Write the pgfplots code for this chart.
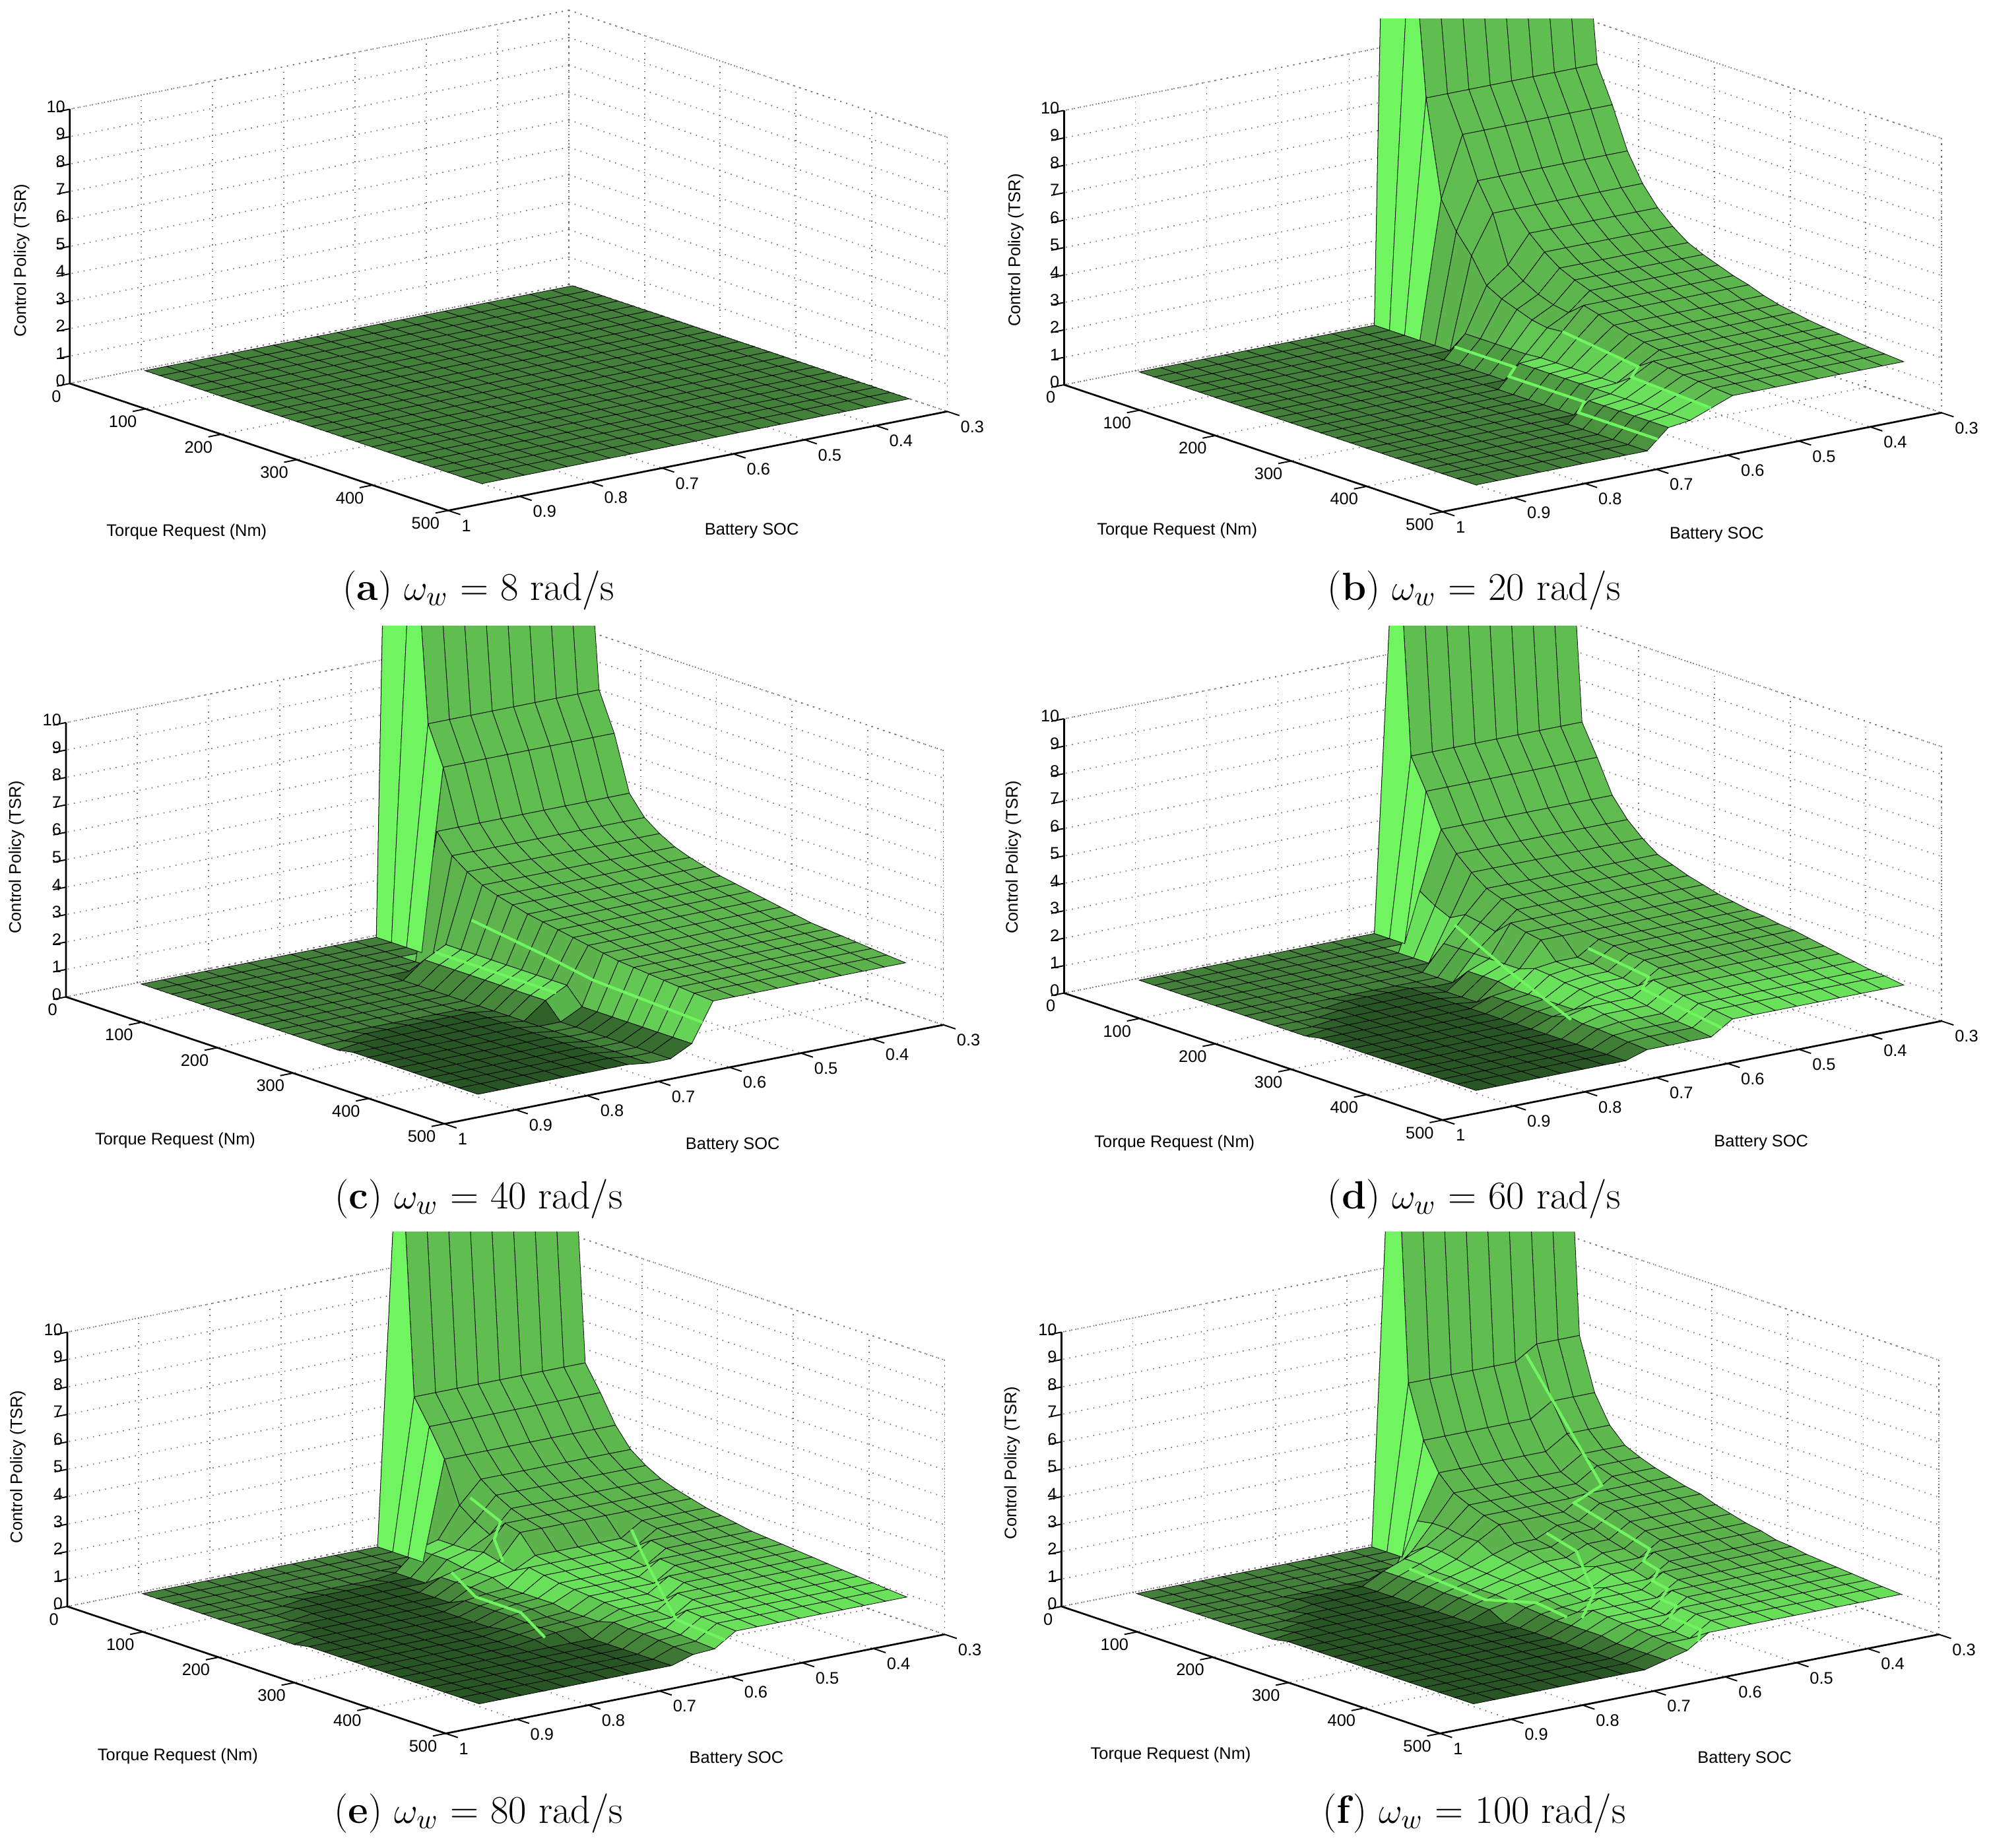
\documentclass[border=0pt]{standalone}
\usepackage{fontspec}
\usepackage{pgfplots}
\usepackage{pgfplotstable}
\pgfplotsset{compat=1.18}
\newfontfamily\sans{Liberation Sans}
\definecolor{rg}{RGB}{112,245,96}
\pgfplotstableread{
T S a b c d e f
5 .3 0 40 40 16 16 18
25 .3 0 15 16 6.5 5.5 6.5
45 .3 0 8.5 8 5.4 4.6 4.6
65 .3 0 7.2 6.6 4.2 3.6 3.6
85 .3 0 5.7 4.6 3.5 2.9 3.05
105 .3 0 4.7 3.9 3 2.5 2.8
125 .3 0 4 3.5 2.6 2.2 2.6
145 .3 0 3.5 3.2 2.4 2 2.45
165 .3 0 3.1 3 2.2 1.85 2.3
185 .3 0 2.85 2.85 2.05 1.7 2.2
205 .3 0 2.65 2.7 1.9 1.6 2
225 .3 0 2.45 2.6 1.8 1.5 1.85
245 .3 0 2.3 2.5 1.7 1.4 1.7
265 .3 0 2.1 2.4 1.65 1.35 1.6
285 .3 0 1.95 2.3 1.55 1.3 1.45
305 .3 0 1.85 2.2 1.5 1.25 1.4
325 .3 0 1.75 2.1 1.4 1.2 1.3
345 .3 0 1.68 2.05 1.3 1.15 1.25
365 .3 0 1.62 2 1.2 1.1 1.2
385 .3 0 1.55 1.95 1.1 1.05 1.15
405 .3 0 1.5 1.9 1 1 1.1
425 .3 0 1.45 1.85 .95 .95 1.05
450 .3 0 1.4 1.8 .85 .9 1
5 .33 0 40 40 16 16 18
25 .33 0 15 16 6.5 5.5 6.5
45 .33 0 8.5 8 5.4 4.6 4.6
65 .33 0 7.2 6.6 4.2 3.6 3.6
85 .33 0 5.7 4.6 3.5 2.9 3.05
105 .33 0 4.7 3.9 3 2.5 2.8
125 .33 0 4 3.5 2.6 2.2 2.6
145 .33 0 3.5 3.2 2.4 2 2.45
165 .33 0 3.1 3 2.2 1.85 2.3
185 .33 0 2.85 2.85 2.05 1.7 2.2
205 .33 0 2.65 2.7 1.9 1.6 2
225 .33 0 2.45 2.6 1.8 1.5 1.85
245 .33 0 2.3 2.5 1.7 1.4 1.7
265 .33 0 2.1 2.4 1.65 1.35 1.6
285 .33 0 1.95 2.3 1.55 1.3 1.45
305 .33 0 1.85 2.2 1.5 1.25 1.4
325 .33 0 1.75 2.1 1.4 1.2 1.3
345 .33 0 1.68 2.05 1.3 1.15 1.25
365 .33 0 1.62 2 1.2 1.1 1.2
385 .33 0 1.55 1.95 1.1 1.05 1.15
405 .33 0 1.5 1.9 1 1 1.1
425 .33 0 1.45 1.85 .95 .95 1.05
450 .33 0 1.4 1.8 .85 .9 1
5 .36 0 40 40 16 16 18
25 .36 0 15 16 6.5 5.5 6.5
45 .36 0 8.5 8 5.4 4.6 4.6
65 .36 0 7.2 6.6 4.2 3.6 3.6
85 .36 0 5.7 4.6 3.5 2.9 3.05
105 .36 0 4.7 3.9 3 2.5 2.8
125 .36 0 4 3.5 2.6 2.2 2.6
145 .36 0 3.5 3.2 2.4 2 2.45
165 .36 0 3.1 3 2.2 1.85 2.3
185 .36 0 2.85 2.85 2.05 1.7 2.2
205 .36 0 2.65 2.7 1.9 1.6 2
225 .36 0 2.45 2.6 1.8 1.5 1.85
245 .36 0 2.3 2.5 1.7 1.4 1.7
265 .36 0 2.1 2.4 1.65 1.35 1.6
285 .36 0 1.95 2.3 1.55 1.3 1.45
305 .36 0 1.85 2.2 1.5 1.25 1.4
325 .36 0 1.75 2.1 1.4 1.2 1.3
345 .36 0 1.68 2.05 1.3 1.15 1.25
365 .36 0 1.62 2 1.2 1.1 1.2
385 .36 0 1.55 1.95 1.1 1.05 1.15
405 .36 0 1.5 1.9 1 1 1.1
425 .36 0 1.45 1.85 .95 .95 1.05
450 .36 0 1.4 1.8 .85 .9 1
5 .39 0 40 40 16 16 18
25 .39 0 15 16 6.5 5.5 6
45 .39 0 8.5 8 5.4 4.6 4.1
65 .39 0 7.2 6.6 4.2 3.6 3.1
85 .39 0 5.7 4.6 3.5 2.9 2.55
105 .39 0 4.7 3.9 3 2.5 2.3
125 .39 0 4 3.5 2.6 2.2 2.1
145 .39 0 3.5 3.2 2.4 2 2.45
165 .39 0 3.1 3 2.2 1.85 2.3
185 .39 0 2.85 2.85 2.05 1.7 2.2
205 .39 0 2.65 2.7 1.9 1.6 2
225 .39 0 2.45 2.6 1.8 1.5 1.85
245 .39 0 2.3 2.5 1.7 1.4 1.7
265 .39 0 2.1 2.4 1.65 1.35 1.6
285 .39 0 1.95 2.3 1.55 1.3 1.45
305 .39 0 1.85 2.2 1.5 1.25 1.4
325 .39 0 1.75 2.1 1.4 1.2 1.3
345 .39 0 1.68 2.05 1.3 1.15 1.25
365 .39 0 1.62 2 1.2 1.1 1.2
385 .39 0 1.55 1.95 1.1 1.05 1.15
405 .39 0 1.5 1.9 1 1 1.1
425 .39 0 1.45 1.85 .95 .95 1.05
450 .39 0 1.4 1.8 .85 .9 1
5 .42 0 40 40 16 16 18
25 .42 0 15 16 6.5 5.5 6
45 .42 0 8.5 8 5.4 4.6 4.1
65 .42 0 7.2 6.6 4.2 3.6 3.1
85 .42 0 5.7 4.6 3.5 2.9 2.55
105 .42 0 4.7 3.9 3 2.5 2.3
125 .42 0 4 3.5 2.6 2.2 2.1
145 .42 0 3.5 3.2 2.4 2 2.45
165 .42 0 3.1 3 2.2 1.85 2.3
185 .42 0 2.85 2.85 2.05 1.2 2.2
205 .42 0 2.65 2.7 1.9 1.1 2
225 .42 0 2.45 2.6 1.8 1.5 1.85
245 .42 0 2.3 2.5 1.7 1.4 1.7
265 .42 0 2.1 2.4 1.65 1.35 1.6
285 .42 0 1.95 2.3 1.55 1.3 1.45
305 .42 0 1.85 2.2 1.5 1.25 1.4
325 .42 0 1.75 2.1 1.4 1.2 1.3
345 .42 0 1.68 2.05 1.3 1.15 1.25
365 .42 0 1.62 2 1.2 1.1 1.2
385 .42 0 1.55 1.95 1.1 1.05 1.15
405 .42 0 1.5 1.9 1 1 1.1
425 .42 0 1.45 1.85 .95 .95 1.05
450 .42 0 1.4 1.8 .85 .9 1
5 .45 0 40 40 16 16 18
25 .45 0 15 16 6.5 5.5 6
45 .45 0 8.5 8 5.4 4.6 4.1
65 .45 0 7.2 6.6 4.2 3.6 3.1
85 .45 0 5.7 4.6 3.5 2.9 2.55
105 .45 0 4.7 3.9 3 2.5 2.3
125 .45 0 4 3.5 2.6 2.2 2.1
145 .45 0 3.5 3.2 2.4 2 1.95
165 .45 0 3.1 3 2.2 1.85 1.8
185 .45 0 2.85 2.85 2.05 1.2 1.7
205 .45 0 2.65 2.7 1.9 1.1 1.5
225 .45 0 2.45 2.6 1.8 1 1.35
245 .45 0 2.3 2.5 1.7 .9 1.2
265 .45 0 2.1 2.4 1.65 1.35 1.6
285 .45 0 1.95 2.3 1.55 1.3 1.45
305 .45 0 1.85 2.2 1.5 1.25 1.4
325 .45 0 1.75 2.1 1.4 1.2 1.3
345 .45 0 1.68 2.05 1.3 1.15 1.25
365 .45 0 1.62 2 1.2 1.1 1.2
385 .45 0 1.55 1.95 1.1 1.05 1.15
405 .45 0 1.5 1.9 1 1 1.1
425 .45 0 1.45 1.85 .95 .95 1.05
450 .45 0 1.4 1.8 .85 .9 1
5 .48 0 40 40 16 16 18
25 .48 0 15 16 6.5 5.5 6
45 .48 0 8.5 8 5.4 4.6 4.1
65 .48 0 7.2 6.6 4.2 3.6 3.1
85 .48 0 5.7 4.6 3.5 2.9 2.55
105 .48 0 4.7 3.9 3 2.5 2.3
125 .48 0 4 3.5 2.6 2.2 2.1
145 .48 0 3.5 3.2 2.4 2 1.95
165 .48 0 3.1 3 2.2 1.85 1.8
185 .48 0 2.85 2.85 2.05 1.2 1.7
205 .48 0 2.65 2.7 1.9 1.1 1.5
225 .48 0 2.45 2.6 1.8 1 1.35
245 .48 0 2.3 2.5 1.7 .9 1.2
265 .48 0 2.1 2.4 1.65 .85 1.1
285 .48 0 1.95 2.3 1.55 .8 .95
305 .48 0 1.85 2.2 1.5 1.25 1.4
325 .48 0 1.75 2.1 1.4 1.2 1.3
345 .48 0 1.68 2.05 1.3 1.15 1.25
365 .48 0 1.62 2 1.2 1.1 1.2
385 .48 0 1.55 1.95 1.1 1.05 1.15
405 .48 0 1.5 1.9 1 1 1.1
425 .48 0 1.45 1.85 .95 .95 1.05
450 .48 0 1.4 1.8 .85 .9 1
5 .51 0 40 40 16 16 18
25 .51 0 15 16 6.5 5.5 6
45 .51 0 8.5 8 5.4 4.6 4.1
65 .51 0 7.2 6.6 4.2 3.6 3.1
85 .51 0 5.7 4.6 3.5 2.9 2.55
105 .51 0 4.7 3.9 3 2.5 2.3
125 .51 0 3 3.5 2.6 2.2 2.1
145 .51 0 2.6 3.2 2.4 2 1.95
165 .51 0 2.3 3 2.2 1.85 1.45
185 .51 0 2.1 2.85 2.05 1.2 1.35
205 .51 0 2 2.7 1.9 1.1 1.15
225 .51 0 2.45 2.6 1.8 1 1
245 .51 0 2.3 2.5 1.7 .9 1.2
265 .51 0 2.1 2.4 1.65 .85 1.1
285 .51 0 1.95 2.3 1.55 .8 .95
305 .51 0 1.85 2.2 1.5 .75 .9
325 .51 0 1.75 2.1 1.4 .7 .8
345 .51 0 1.68 2.05 1.3 1.15 1.25
365 .51 0 1.62 2 1.2 1.1 1.2
385 .51 0 1.55 1.95 1.1 1.05 1.15
405 .51 0 1.5 1.9 1 1 1.1
425 .51 0 1.45 1.85 .95 .95 1.05
450 .51 0 1.4 1.8 .85 .9 1
5 .54 0 40 40 16 16 18
25 .54 0 15 16 6.5 5.5 6
45 .54 0 8.5 8 5.4 4.6 4.1
65 .54 0 5 6.6 4.2 3.6 3.1
85 .54 0 4 4.6 3.5 2.1 2.55
105 .54 0 3.3 3.9 3 1.7 2.3
125 .54 0 2.4 3.5 2.6 1.4 2.1
145 .54 0 2.1 3.2 2.4 2 1.95
165 .54 0 1.9 3 2.2 1.85 1.45
185 .54 0 1.7 2.85 2.05 1.2 1.35
205 .54 0 1.6 2.7 1.9 1.1 1.15
225 .54 0 1.65 2.6 1.8 1 1
245 .54 0 1.6 2.5 1.2 .9 .85
265 .54 0 1.5 2.4 1.15 .85 .75
285 .54 0 1.4 2.3 1.05 .8 .95
305 .54 0 1.35 2.2 1 .75 .9
325 .54 0 1.3 2.1 .9 .7 .8
345 .54 0 1.68 2.05 1.3 .65 .75
365 .54 0 1.62 2 1.2 .6 .7
385 .54 0 1.55 1.95 1.1 1.05 1.15
405 .54 0 1.5 1.9 1 1 1.1
425 .54 0 1.45 1.85 .95 .95 1.05
450 .54 0 1.4 1.8 .85 .9 1
5 .57 0 0 0 0 0 0
25 .57 0 0 0 0 0 0
45 .57 0 0 0 0 0 0
65 .57 0 0 0 2.1 0 1.5
85 .57 0 0 4.6 1.75 1 1.6
105 .57 0 0 3.9 1.5 1 1.6
125 .57 0 .8 3.5 1.8 1 1.5
145 .57 0 .8 3.2 1.7 1.1 1.5
165 .57 0 .8 3 1.55 .95 1.2
185 .57 0 .8 2.85 2.05 .8 1.1
205 .57 0 .8 2.7 1.9 1.1 1
225 .57 0 .85 2.6 1.8 1 .9
245 .57 0 .85 2.5 1.2 .9 .8
265 .57 0 .85 2.4 1.15 .85 .7
285 .57 0 .85 2.3 1.05 .8 .6
305 .57 0 .85 2.2 1 .75 .9
325 .57 0 .85 2.1 .9 .7 .8
345 .57 0 1.25 2.05 .8 .65 .75
365 .57 0 1.2 2 .7 .6 .7
385 .57 0 1.15 1.95 .6 .55 .65
405 .57 0 1.15 1.9 .5 .5 .6
425 .57 0 1.1 1.85 .45 .45 .55
450 .57 0 1.1 1.8 .35 .4 1
5 .6 0 0 0 0 0 0
25 .6 0 0 0 0 0 0
45 .6 0 0 0 0 0 0
65 .6 0 0 0 0 0 0
85 .6 0 0 0 0 .8 .7
105 .6 0 0 0 0 .8 1.1
125 .6 0 0 1 .9 .8 1.1
145 .6 0 0 1 .9 .7 1
165 .6 0 0 1 .9 .7 .9
185 .6 0 0 1 .9 .7 .85
205 .6 0 0 1 .9 .5 .8
225 .6 0 .8 1 .9 .5 .8
245 .6 0 .8 1 1.1 .5 .7
265 .6 0 .8 1 1.05 .5 .65
285 .6 0 .8 1 .95 .4 .55
305 .6 0 .8 .4 .9 .4 .55
325 .6 0 .8 .4 .8 .4 .8
345 .6 0 .8 .4 .8 .55 .75
365 .6 0 .8 .4 .7 .5 .7
385 .6 0 .8 .4 .6 .5 .65
405 .6 0 .8 .4 .5 .45 .6
425 .6 0 .8 .4 .45 .4 .55
450 .6 0 .8 .4 .35 .35 .5
5 .63 0 0 0 0 0 0
25 .63 0 0 0 0 0 0
45 .63 0 0 0 0 0 0
65 .63 0 0 0 0 0 0
85 .63 0 0 0 0 .1 0
105 .63 0 0 0 0 .1 .8
125 .63 0 0 .6 0 .1 .8
145 .63 0 0 .6 0 .5 .7
165 .63 0 0 .6 0 .5 .7
185 .63 0 0 .6 .6 .5 .65
205 .63 0 0 .6 .6 .45 .6
225 .63 0 0 .6 .6 .45 .6
245 .63 0 0 .6 .5 .45 .55
265 .63 0 0 .6 .5 .45 .5
285 .63 0 0 .6 .5 .35 .45
305 .63 0 0 0 .5 .35 .4
325 .63 0 0 0 .5 .35 .4
345 .63 0 .7 0 .8 .1 .4
365 .63 0 .7 0 .7 .1 .4
385 .63 0 .7 0 .6 .1 .3
405 .63 0 .7 0 .5 .1 .3
425 .63 0 .7 0 .45 .1 .3
450 .63 0 .7 0 .35 .1 .3
5 .66 0 0 0 0 0 0
25 .66 0 0 0 0 0 0
45 .66 0 0 0 0 0 0
65 .66 0 0 0 0 0 0
85 .66 0 0 0 0 0 0
105 .66 0 0 0 0 .1 .5
125 .66 0 0 0 0 .1 .5
145 .66 0 0 0 0 .1 .5
165 .66 0 0 0 0 .1 .5
185 .66 0 0 0 0 .1 .45
205 .66 0 0 0 0 .35 .45
225 .66 0 0 0 0 .35 .4
245 .66 0 0 0 .4 .35 .4
265 .66 0 0 0 .4 .35 .1
285 .66 0 0 0 .4 .3 .1
305 .66 0 0 0 .4 .3 .1
325 .66 0 0 0 .4 .3 .1
345 .66 0 0 0 .6 .1 .1
365 .66 0 0 0 .5 .1 .1
385 .66 0 0 0 .5 .1 .1
405 .66 0 0 0 .45 .1 .1
425 .66 0 0 0 .4 .1 .1
450 .66 0 0 0 .35 .1 .1
5 .69 0 0 0 0 0 0
25 .69 0 0 0 0 0 0
45 .69 0 0 0 0 0 0
65 .69 0 0 0 0 0 0
85 .69 0 0 0 0 0 0
105 .69 0 0 0 0 .1 .1
125 .69 0 0 0 0 .1 .1
145 .69 0 0 0 0 .1 .1
165 .69 0 0 0 .1 .1 .1
185 .69 0 0 0 .1 .1 .1
205 .69 0 0 0 .1 .1 .1
225 .69 0 0 0 .1 .1 .1
245 .69 0 0 .1 .1 .1 .1
265 .69 0 0 .1 .1 .1 .1
285 .69 0 0 .1 .1 .2 .1
305 .69 0 0 .1 .1 .2 .1
325 .69 0 0 .1 .1 .2 .1
345 .69 0 0 .1 .1 .1 .1
365 .69 0 0 .1 .1 .1 .1
385 .69 0 0 .1 .1 .1 .1
405 .69 0 0 .1 .1 .1 .1
425 .69 0 0 .1 .1 .1 .1
450 .69 0 0 .1 .1 .1 .1
5 .72 0 0 0 0 0 0
25 .72 0 0 0 0 0 0
45 .72 0 0 0 0 0 0
65 .72 0 0 0 0 0 0
85 .72 0 0 0 0 0 0
105 .72 0 0 0 0 .1 .1
125 .72 0 0 0 0 .1 .1
145 .72 0 0 0 0 .1 .1
165 .72 0 0 0 .1 .1 .1
185 .72 0 0 0 .1 .1 .1
205 .72 0 0 0 .1 .1 .1
225 .72 0 0 0 .1 .1 .1
245 .72 0 0 .1 .1 .1 .1
265 .72 0 0 .1 .1 .1 .1
285 .72 0 0 .1 .1 .1 .1
305 .72 0 0 .1 .1 .1 .1
325 .72 0 0 .1 .1 .1 .1
345 .72 0 0 .1 .1 .1 .1
365 .72 0 0 .1 .1 .1 .1
385 .72 0 0 .1 .1 .1 .1
405 .72 0 0 .1 .1 .1 .1
425 .72 0 0 .1 .1 .1 .1
450 .72 0 0 .1 .1 .1 .1
5 .75 0 0 0 0 0 0
25 .75 0 0 0 0 0 0
45 .75 0 0 0 0 0 0
65 .75 0 0 0 0 0 0
85 .75 0 0 0 0 0 0
105 .75 0 0 0 0 .1 .1
125 .75 0 0 0 0 .1 .1
145 .75 0 0 0 0 .1 .1
165 .75 0 0 0 .1 .1 .1
185 .75 0 0 0 .1 .1 .1
205 .75 0 0 0 .1 .1 .1
225 .75 0 0 0 .1 .1 .1
245 .75 0 0 .1 .1 .1 .1
265 .75 0 0 .1 .1 .1 .1
285 .75 0 0 .1 .1 .1 .1
305 .75 0 0 .1 .1 .1 .1
325 .75 0 0 .1 .1 .1 .1
345 .75 0 0 .1 .1 .1 .1
365 .75 0 0 .1 .1 .1 .1
385 .75 0 0 .1 .1 .1 .1
405 .75 0 0 .1 .1 .1 .1
425 .75 0 0 .1 .1 .1 .1
450 .75 0 0 .1 .1 .1 .1
5 .78 0 0 0 0 0 0
25 .78 0 0 0 0 0 0
45 .78 0 0 0 0 0 0
65 .78 0 0 0 0 0 0
85 .78 0 0 0 0 0 0
105 .78 0 0 0 0 .1 .1
125 .78 0 0 0 0 .1 .1
145 .78 0 0 0 0 .1 .1
165 .78 0 0 0 .1 .1 .1
185 .78 0 0 0 .1 .1 .1
205 .78 0 0 0 .1 .1 .1
225 .78 0 0 0 .1 .1 .1
245 .78 0 0 .1 .1 .1 .1
265 .78 0 0 .1 .1 .1 .1
285 .78 0 0 .1 .1 .1 .1
305 .78 0 0 .1 .1 .1 .1
325 .78 0 0 .1 .1 .1 .1
345 .78 0 0 .1 .1 .1 .1
365 .78 0 0 .1 .1 .1 .1
385 .78 0 0 .1 .1 .1 .1
405 .78 0 0 .1 .1 .1 .1
425 .78 0 0 .1 .1 .1 .1
450 .78 0 0 .1 .1 .1 .1
5 .81 0 0 0 0 0 0
25 .81 0 0 0 0 0 0
45 .81 0 0 0 0 0 0
65 .81 0 0 0 0 0 0
85 .81 0 0 0 0 0 0
105 .81 0 0 0 0 0 0
125 .81 0 0 0 0 .1 0
145 .81 0 0 0 0 .1 .1
165 .81 0 0 0 0 .1 .1
185 .81 0 0 0 .1 .1 .1
205 .81 0 0 0 .1 .1 .1
225 .81 0 0 0 .1 .1 .1
245 .81 0 0 .1 .1 .1 .1
265 .81 0 0 .1 .1 .1 .1
285 .81 0 0 .1 .1 .1 .1
305 .81 0 0 .1 .1 .1 .1
325 .81 0 0 .1 .1 .1 .1
345 .81 0 0 .1 .1 .1 .1
365 .81 0 0 .1 .1 .1 .1
385 .81 0 0 .1 .1 .1 .1
405 .81 0 0 .1 .1 .1 .1
425 .81 0 0 .1 .1 .1 .1
450 .81 0 0 .1 .1 .1 .1
5 .84 0 0 0 0 0 0
25 .84 0 0 0 0 0 0
45 .84 0 0 0 0 0 0
65 .84 0 0 0 0 0 0
85 .84 0 0 0 0 0 0
105 .84 0 0 0 0 0 0
125 .84 0 0 0 0 0 0
145 .84 0 0 0 0 0 0
165 .84 0 0 0 0 .1 .1
185 .84 0 0 0 0 .1 .1
205 .84 0 0 0 .1 .1 .1
225 .84 0 0 0 .1 .1 .1
245 .84 0 0 .1 .1 .1 .1
265 .84 0 0 .1 .1 .1 .1
285 .84 0 0 .1 .1 .1 .1
305 .84 0 0 .1 .1 .1 .1
325 .84 0 0 .1 .1 .1 .1
345 .84 0 0 .1 .1 .1 .1
365 .84 0 0 .1 .1 .1 .1
385 .84 0 0 .1 .1 .1 .1
405 .84 0 0 .1 .1 .1 .1
425 .84 0 0 .1 .1 .1 .1
450 .84 0 0 .1 .1 .1 .1
5 .87 0 0 0 0 0 0
25 .87 0 0 0 0 0 0
45 .87 0 0 0 0 0 0
65 .87 0 0 0 0 0 0
85 .87 0 0 0 0 0 0
105 .87 0 0 0 0 0 0
125 .87 0 0 0 0 0 0
145 .87 0 0 0 0 0 0
165 .87 0 0 0 0 0 0
185 .87 0 0 0 0 .1 .1
205 .87 0 0 0 0 .1 .1
225 .87 0 0 0 .1 .1 .1
245 .87 0 0 0 .1 .1 .1
265 .87 0 0 .1 .1 .1 .1
285 .87 0 0 .1 .1 .1 .1
305 .87 0 0 .1 .1 .1 .1
325 .87 0 0 .1 .1 .1 .1
345 .87 0 0 .1 .1 .1 .1
365 .87 0 0 .1 .1 .1 .1
385 .87 0 0 .1 .1 .1 .1
405 .87 0 0 .1 .1 .1 .1
425 .87 0 0 .1 .1 .1 .1
450 .87 0 0 .1 .1 .1 .1
5 .9 0 0 0 0 0 0
25 .9 0 0 0 0 0 0
45 .9 0 0 0 0 0 0
65 .9 0 0 0 0 0 0
85 .9 0 0 0 0 0 0
105 .9 0 0 0 0 0 0
125 .9 0 0 0 0 0 0
145 .9 0 0 0 0 0 0
165 .9 0 0 0 0 0 0
185 .9 0 0 0 0 0 0
205 .9 0 0 0 0 0 .1
225 .9 0 0 0 0 .1 .1
245 .9 0 0 0 .1 .1 .1
265 .9 0 0 0 .1 .1 .1
285 .9 0 0 .1 .1 .1 .1
305 .9 0 0 .1 .1 .1 .1
325 .9 0 0 .1 .1 .1 .1
345 .9 0 0 .1 .1 .1 .1
365 .9 0 0 .1 .1 .1 .1
385 .9 0 0 .1 .1 .1 .1
405 .9 0 0 .1 .1 .1 .1
425 .9 0 0 .1 .1 .1 .1
450 .9 0 0 .1 .1 .1 .1
}\tbl
\pgfplotsset{panel/.style={
 clip=false,disabledatascaling,anchor=origin,
 x={(0.298pt,-0.1pt)},y={(280.71pt,55.71pt)},z={(0pt,10.8pt)},y dir=reverse,
 xmin=0,xmax=500,ymin=.3,ymax=1,zmin=0,zmax=10,
 xtick={0,100,200,300,400,500},ytick={.3,.4,.5,.6,.7,.8,.9,1},ztick={0,1,2,3,4,5,6,7,8,9,10},
 xticklabels={0,100,200,300,400,500},yticklabels={0.3,0.4,0.5,0.6,0.7,0.8,0.9,1},
 grid=major,grid style={dotted,line width=.45pt,black!55},
 axis line style={dotted,line width=.45pt,black!55},
 major tick length=0pt,
 /pgf/number format/assume math mode=true,
 every tick label/.append style={font=\fontsize{6.6}{7}\sans},
 xticklabel style={anchor=east,xshift=0.1pt,yshift=-5pt},
 yticklabel style={anchor=west,xshift=1.75pt,yshift=-6pt},
 zticklabel style={anchor=east,xshift=1.7pt,yshift=1pt},
 colormap={gr}{rgb255(0pt)=(67,128,58) rgb255(1pt)=(40,85,36) rgb255(3pt)=(70,135,58) rgb255(7pt)=(105,225,90) rgb255(10pt)=(105,225,90) rgb255(14pt)=(92,178,76) rgb255(50pt)=(96,190,80)},
 point meta min=0,point meta max=5,
}}
\newcommand\wall[1]{\addplot3[surf,shader=faceted,faceted color=black,line width=.2pt,z buffer=none,mesh/rows=2,mesh/cols=4,colormap={w}{rgb255=(112,245,96) rgb255=(112,245,96)},point meta=0] coordinates {#1};}
\newcommand\ridge[1]{\addplot3[no marks,color=rg,line width=1.1pt] coordinates {#1};}
\newcommand\panel[7]{%
 \begin{scope}
 \clip (#1,#2) rectangle ++(784,#3);
 \begin{axis}[panel,at={({(#4+393)*.5pt},{-(#5-78)*.5pt})}]
  \addplot3[surf,shader=faceted,faceted color=black,line width=.2pt,z buffer=none,mesh/rows=21,mesh/cols=23,point meta={min(z,5)}] table[x=T,y=S,z=#6]{\tbl};
  #7
  \draw[black,line width=.7pt] (axis cs:0,1,10) -- (axis cs:0,1,0) -- (axis cs:500,1,0) -- (axis cs:500,.3,0);
  \pgfplotsinvokeforeach{100,200,300,400,500}{\draw[black,line width=.5pt] (axis cs:##1,1,0) -- (axis cs:##1,1.018,0);}
  \pgfplotsinvokeforeach{.3,.4,.5,.6,.7,.8,.9,1}{\draw[black,line width=.5pt] (axis cs:500,##1,0) -- (axis cs:516,##1,0);}
  \pgfplotsinvokeforeach{0,1,2,3,4,5,6,7,8,9,10}{\draw[black,line width=.5pt] (axis cs:0,1,##1) -- (axis cs:0,1.018,##1);}
 \end{axis}
 \end{scope}}
\newcommand\lab[6]{%
 \node[font=\fontsize{6.6}{7}\sans] at (#1,#2) {Torque Request (Nm)};
 \node[font=\fontsize{6.6}{7}\sans] at (#3,#4) {Battery SOC};
 \node[font=\fontsize{6.6}{7}\sans,rotate=90] at (#5,#6) {Control Policy (TSR)};}
\newcommand\capt[4]{\node[font=\fontsize{15.5}{18}\selectfont] at (#1,#2) {(\textbf{#3}) $\omega_w$ = #4 rad/s};}
\begin{document}
\begin{tikzpicture}[x=.5pt,y=-.5pt]
\path[use as bounding box] (0,0) rectangle (1568,1455);
\panel{0}{0}{440}{55}{302}{a}{}
\panel{784}{15}{430}{838}{303}{b}{%
 \wall{(5,.54,40) (25,.54,15) (45,.54,8.5) (65,.54,5) (5,.57,0) (25,.57,0) (45,.57,0) (65,.57,0)}
 \ridge{(125,.585,.4) (205,.585,.4) (225,.615,.4) (325,.615,.4) (345,.645,.35) (450,.645,.35)}
 \ridge{(225,.54,1.65) (325,.54,1.3) (345,.57,1.25) (450,.57,1.1)}}
\panel{0}{493}{430}{52}{785}{c}{%
 \wall{(5,.54,40) (25,.54,16) (45,.54,8) (65,.54,6.6) (5,.57,0) (25,.57,0) (45,.57,0) (65,.57,0)}
 \ridge{(145,.585,2) (245,.585,1.6) (305,.585,1.3) (450,.585,1.1)}
 \ridge{(125,.615,.8) (285,.615,.8)}}
\panel{784}{493}{430}{838}{782}{d}{%
 \wall{(5,.54,16) (25,.54,6.5) (45,.54,5.4) (65,.54,4.2) (5,.57,0) (25,.57,0) (45,.57,0) (65,.57,2.1)}
 \ridge{(125,.585,1.5) (225,.615,.9) (345,.655,.45)}
 \ridge{(245,.525,1.45) (325,.525,1.15) (345,.555,1.05) (450,.555,.6)}}
\panel{0}{970}{430}{53}{1265}{e}{%
 \wall{(5,.54,16) (25,.54,5.5) (45,.54,4.6) (65,.54,3.6) (5,.57,0) (25,.57,0) (45,.57,0) (65,.57,0)}
 \ridge{(185,.405,1.45) (225,.435,1.25) (265,.465,1.1) (305,.495,1) (345,.525,.9) (385,.555,.8) (450,.555,.65)}
 \ridge{(145,.615,.6) (205,.645,.42) (265,.645,.4) (325,.675,.2)}
 \ridge{(85,.525,2.3) (125,.525,1.8) (145,.555,1.5) (185,.585,1.2)}}
\panel{784}{970}{430}{836}{1265}{f}{%
 \wall{(5,.54,18) (25,.54,6) (45,.54,4.1) (65,.54,3.1) (5,.57,0) (25,.57,0) (45,.57,0) (65,.57,1.5)}
 \ridge{(25,.375,6.2) (125,.375,2.35) (145,.435,2.2) (245,.435,1.45) (265,.465,1.35) (285,.465,1.2) (305,.495,1.15) (325,.495,1.05) (345,.525,1) (365,.525,.95) (385,.555,.9) (425,.555,.8) (450,.585,.75)}
 \ridge{(165,.495,1.6) (205,.495,1.3) (245,.525,1) (285,.555,.85) (305,.585,.7) (325,.615,.6)}
 \ridge{(125,.645,.7) (225,.645,.5) (265,.615,.6) (305,.615,.45)}}
\lab{147}{419}{592}{418}{17}{205}
\lab{927}{418}{1352}{421}{800}{197}
\lab{138}{898}{577}{902}{13}{675}
\lab{925}{900}{1387}{900}{798}{675}
\lab{140}{1383}{580}{1385}{14}{1155}
\lab{922}{1382}{1374}{1385}{797}{1152}
\capt{377}{465}{a}{8}
\capt{1161}{465}{b}{20}
\capt{377}{944}{c}{40}
\capt{1161}{944}{d}{60}
\capt{377}{1428}{e}{80}
\capt{1161}{1428}{f}{100}
\end{tikzpicture}
\end{document}
